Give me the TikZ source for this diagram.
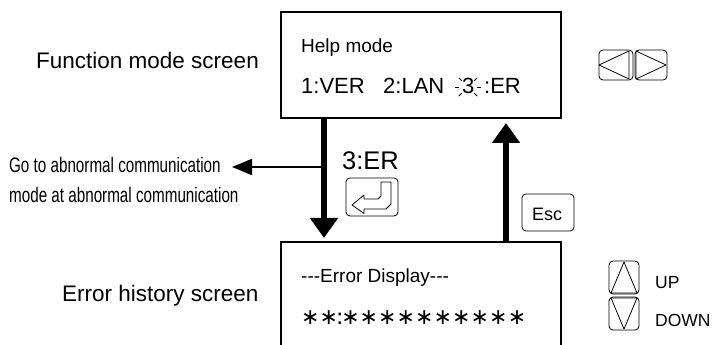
\documentclass[tikz,border=0pt]{standalone}
\usepackage{fontspec}
\setmainfont{Liberation Sans}
\newfontfamily\starfont{DejaVu Sans}
\usetikzlibrary{arrows.meta,calc}
\newcommand{\sstar}{\makebox[18.5pt]{∗}}
\tikzset{x=1pt,y=1pt,
  screen/.style={draw=black,line width=2.2pt},
  flow/.style={line width=6.6pt,-{Triangle[length=20pt,width=27pt]}},
  thin arrow/.style={line width=2pt,-{Triangle[length=20pt,width=16pt]}},
  keycap/.style={draw=black,line width=.8pt,rounded corners=4pt},
  glyph/.style={draw=black,line width=.8pt,line join=round},
  lbl/.style={inner sep=0pt,anchor=base west,text=black},
  big/.style={font=\fontsize{22.5}{24}\selectfont},
  lcd/.style={font=\fontsize{22}{24}\selectfont},
  mid/.style={font=\fontsize{19}{21}\selectfont},
  narrow/.style={font=\fontsize{21}{23}\selectfont,xscale=.725}
}
\begin{document}
\begin{tikzpicture}
\useasboundingbox (0,0) rectangle (712,345);
% screens
\draw[screen] (281,227) rectangle (561,333);
\draw[screen] (281,-5) -- (281,103) -- (561,103) -- (561,-5);
\coordinate (topdn) at (324,227);
\coordinate (botdn) at (324,107);
\coordinate (botup) at (506,103);
\coordinate (topup) at (506,222);
\coordinate (hstart) at (324,178);
\coordinate (hend) at (232,178);
\draw[flow] (topdn) -- (botdn);
\draw[flow] (botup) -- (topup);
\draw[thin arrow] (hstart) -- (hend);
% texts
\node[lbl,big] (t1) at (36,276) {Function mode screen};
\node[lbl,big] (t2) at (62,43) {Error history screen};
\node[lbl,mid] (t3) at (301,292.5) {Help mode};
\node[lbl,lcd] (t4) at (301,251) {1:VER};
\node[lbl,lcd] (t5) at (383,251) {2:LAN};
\node[lbl,lcd] (t6) at (462,251) {3};
\node[lbl,lcd] (t7) at (484,251) {:ER};
\node[lbl,font=\fontsize{25.5}{27}\selectfont] (t8) at (342,175) {3:ER};
\node[lbl,mid] (t9) at (301,62) {{-}{-}{-}Error Display{-}{-}{-}};
\node[lbl,font=\fontsize{22}{24}\selectfont\starfont] (t10) at (301,20) {\sstar\sstar\makebox[3pt]{:}\sstar\sstar\sstar\sstar\sstar\sstar\sstar\sstar\sstar\sstar};
\node[lbl,narrow] (t11) at (9,172) {Go to abnormal communication};
\node[lbl,narrow] (t12) at (9,142) {mode at abnormal communication};
\node[lbl,font=\fontsize{18}{20}\selectfont] (t13) at (532,124) {Esc};
\node[lbl,font=\fontsize{17.5}{19}\selectfont] (t14) at (655,56) {UP};
\node[lbl,font=\fontsize{17.5}{19}\selectfont] (t15) at (655,18) {DOWN};
% blink rays
\foreach \a in {0,45,135,180,225,315} \draw[glyph] ($(468,258)+(\a:9)$) -- ($(468,258)+(\a:13)$);
% enter key
\draw[keycap] (346,129) rectangle (398,167);
\draw[glyph] (352,140) -- (364,131.5) -- (364,136) -- (386,136) -- (391,141) -- (391,163) -- (381,163) -- (381,149) -- (378,146) -- (364,146) -- (364,150) -- cycle;
% esc key
\draw[keycap] (522,114) rectangle (574,151);
% left/right keys
\draw[keycap] (599,265) rectangle (633,295);
\draw[keycap] (635,265) rectangle (667,295);
\draw[glyph] (599,280) -- (629,294) -- (629,266) -- cycle;
\draw[glyph] (636,294) -- (666,280) -- (636,266) -- cycle;
% up/down keys
\draw[keycap] (609,51) rectangle (639,84);
\draw[keycap] (609,15) rectangle (639,48);
\draw[glyph] (624,83) -- (611,52) -- (637,52) -- cycle;
\draw[glyph] (611,47) -- (637,47) -- (624,16) -- cycle;
\end{tikzpicture}
\end{document}
